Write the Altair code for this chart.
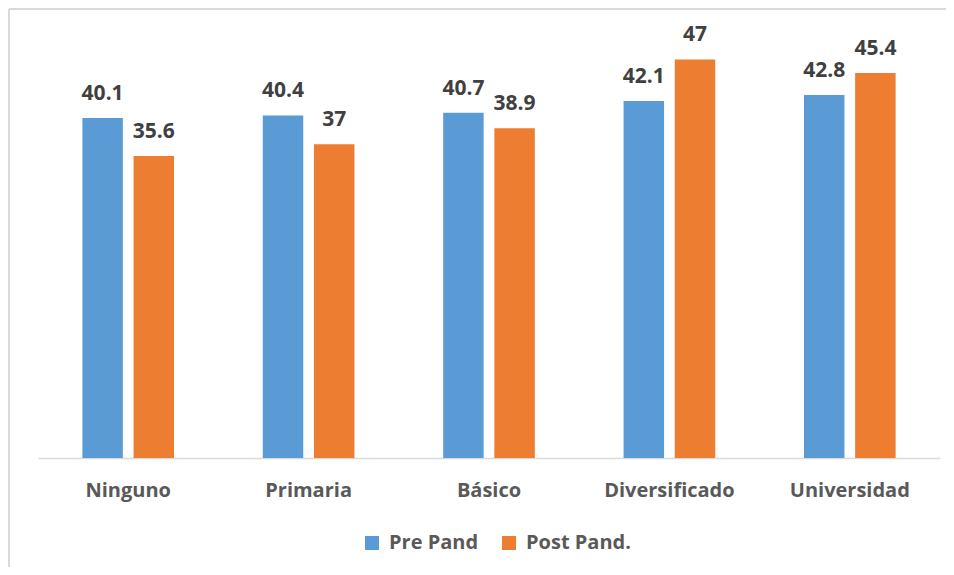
import altair as alt
import pandas as pd

categories = ["Ninguno", "Primaria", "Básico", "Diversificado", "Universidad"]
series = ["Pre Pand", "Post Pand."]
pre_pand = [40.1, 40.4, 40.7, 42.1, 42.8]
post_pand = [35.6, 37, 38.9, 47, 45.4]

rows = []
for c, a, b in zip(categories, pre_pand, post_pand):
    rows.append({"Nivel": c, "Serie": series[0], "Valor": a})
    rows.append({"Nivel": c, "Serie": series[1], "Valor": b})
df = pd.DataFrame(rows)

FONT = "Open Sans"

x = alt.X(
    "Nivel:N",
    sort=categories,
    scale=alt.Scale(paddingInner=0.492, paddingOuter=0.246),
    axis=alt.Axis(
        title=None, labelAngle=0, ticks=False, grid=False,
        domainColor="#D9D9D9", domainWidth=1.5,
        labelFont=FONT, labelFontSize=20, labelFontWeight="bold",
        labelColor="#595959", labelPadding=22,
    ),
)
xo = alt.XOffset("Serie:N", sort=series, scale=alt.Scale(paddingInner=0.209))
y = alt.Y("Valor:Q", scale=alt.Scale(domain=[0, 50]), axis=None)

bars = alt.Chart(df).mark_bar().encode(
    x=x, xOffset=xo, y=y,
    color=alt.Color(
        "Serie:N", sort=series,
        scale=alt.Scale(domain=series, range=["#5B9BD5", "#ED7D31"]),
        legend=alt.Legend(
            title=None, orient="none", legendX=324, legendY=499,
            direction="horizontal", symbolType="square", symbolSize=196,
            symbolStrokeWidth=0, labelFont=FONT, labelFontSize=20,
            labelFontWeight="bold", labelColor="#595959", labelOffset=7,
            columnPadding=20,
        ),
    ),
)

labels = alt.Chart(df).mark_text(
    baseline="alphabetic", dy=-18, font=FONT, fontSize=21,
    fontWeight="bold", color="#404040",
).encode(x=x, xOffset=xo, y=y, text=alt.Text("Valor:Q", format="~g"))

border_left = alt.Chart(df).mark_rule(color="#D9D9D9", strokeWidth=1.5).encode(
    x=alt.value(-29), y=alt.value(-25), y2=alt.value(533)
)
border_top = alt.Chart(df).mark_rule(color="#D9D9D9", strokeWidth=1.5).encode(
    x=alt.value(-29), x2=alt.value(920), y=alt.value(-25)
)

chart = (
    alt.layer(border_left, border_top, bars, labels)
    .properties(
        width=902, height=424,
        autosize=alt.AutoSizeParams(type="none"),
        padding={"left": 30, "top": 26, "right": 6, "bottom": 109},
    )
    .configure_view(stroke=None)
)

chart.save("out.html", embed_options={"renderer": "svg", "actions": False})
